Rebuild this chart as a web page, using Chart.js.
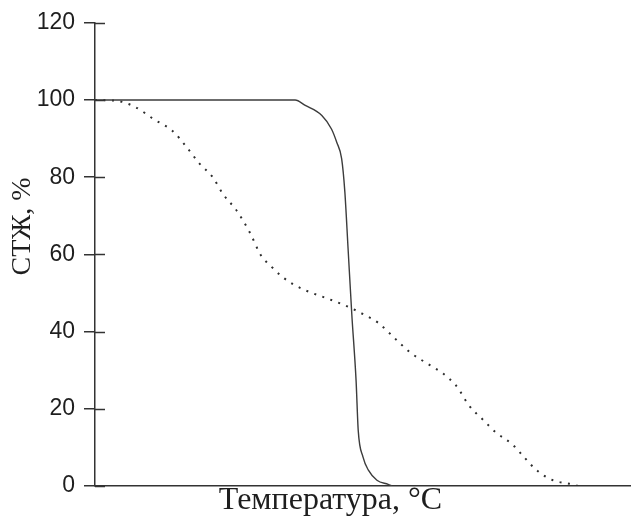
<!DOCTYPE html>
<html>
<head>
<meta charset="utf-8">
<script src="https://cdn.jsdelivr.net/npm/chart.js@4/dist/chart.umd.min.js"></script>
<style>
  html, body { margin: 0; padding: 0; background: #fff; }
  canvas { display: block; }
</style>
</head>
<body>
<canvas id="chart" width="631" height="517"></canvas>
<script>
// Y axis tick values (СТЖ, %)
const yTicks = [0, 20, 40, 60, 80, 100, 120];

// Solid curve: sharp drop
const tempSolid = [0, 37.4, 39.3, 42.4, 44.2, 45.2, 46.1, 46.7, 47.3, 48.0, 48.8, 49.2, 50.1, 51.1, 52.7, 54.8, 55.5];
const stjSolid  = [100, 100, 98.6, 96.0, 92.5, 89.0, 84.8, 76.2, 61.6, 44.5, 27.3, 14.4, 7.5, 4.1, 1.5, 0.4, 0];

// Dotted curve: gradual two-stage decline
const tempDotted = [0, 4, 7.5, 11, 14.5, 17, 19.5, 22, 24, 26.5, 29, 31, 33, 35, 37, 40, 43, 46, 48, 50, 53, 56, 59, 62.5, 65, 67.5, 70, 72.5, 75, 78, 80, 82, 84, 86, 89, 90.3];
const stjDotted  = [100, 99.8, 98.2, 95.0, 92.0, 88.0, 83.6, 80.0, 75.5, 71.3, 65.5, 59.8, 56.8, 54.2, 52.3, 50.3, 48.8, 47.2, 46.0, 44.6, 42.2, 38.3, 34.5, 31.4, 29.2, 26.0, 20.7, 17.2, 13.8, 10.8, 7.8, 4.8, 2.6, 1.3, 0.5, 0];

const toPoints = (xs, ys) => xs.map((x, i) => ({ x, y: ys[i] }));

const AXIS_COLOR = '#333';
const TEXT_COLOR = '#1e1e1e';
const EN_SPACE = '\u2002';

// Tick marks on the y axis cross it: draw the inner half over the plot area
const innerTicks = {
  id: 'innerTicks',
  afterDatasetsDraw(chart) {
    const y = chart.scales.y;
    const { ctx, chartArea } = chart;
    ctx.save();
    ctx.strokeStyle = AXIS_COLOR;
    ctx.lineWidth = 1.5;
    y.ticks.forEach(t => {
      const py = Math.round(y.getPixelForValue(t.value)) + 0.5;
      ctx.beginPath();
      ctx.moveTo(chartArea.left, py);
      ctx.lineTo(chartArea.left + 10, py);
      ctx.stroke();
    });
    ctx.restore();
  }
};

new Chart(document.getElementById('chart'), {
  type: 'line',
  data: {
    datasets: [
      {
        data: toPoints(tempSolid, stjSolid),
        borderColor: '#3c3c3c',
        borderWidth: 1.4,
        pointRadius: 0,
        cubicInterpolationMode: 'monotone',
        fill: false
      },
      {
        data: toPoints(tempDotted, stjDotted),
        borderColor: '#2e2e2e',
        borderWidth: 2,
        borderDash: [2, 6.5],
        pointRadius: 0,
        cubicInterpolationMode: 'monotone',
        fill: false
      }
    ]
  },
  options: {
    responsive: false,
    animation: false,
    layout: { padding: { top: 20, right: 1, bottom: 0, left: 0 } },
    plugins: {
      legend: { display: false },
      tooltip: { enabled: false }
    },
    scales: {
      x: {
        type: 'linear',
        min: 0,
        max: 100,
        ticks: { display: false },
        grid: { display: false },
        border: { display: true, color: AXIS_COLOR, width: 1.5 },
        title: {
          display: true,
          // trailing spaces move the centred label slightly left
          text: 'Температура, °C' + EN_SPACE.repeat(4),
          color: TEXT_COLOR,
          font: { family: '"Liberation Serif", "Times New Roman", serif', size: 32 },
          padding: { top: 0, bottom: -3 }
        },
        afterFit(scale) { scale.height = 31; }
      },
      y: {
        type: 'linear',
        min: 0,
        max: 120,
        afterBuildTicks(scale) { scale.ticks = yTicks.map(v => ({ value: v })); },
        ticks: {
          color: TEXT_COLOR,
          padding: 9,
          font: { family: '"Liberation Sans", Arial, sans-serif', size: 23 }
        },
        grid: {
          display: true,
          drawOnChartArea: false,
          drawTicks: true,
          tickLength: 11,
          color: AXIS_COLOR,
          lineWidth: 1.5
        },
        border: { display: true, color: AXIS_COLOR, width: 1.5 },
        title: {
          display: true,
          // leading spaces raise the rotated, centred label
          text: EN_SPACE.repeat(4) + 'СТЖ, %',
          color: TEXT_COLOR,
          font: { family: '"Liberation Serif", "Times New Roman", serif', size: 28 },
          padding: { top: 6, bottom: 0 }
        },
        afterFit(scale) { scale.width = 95; }
      }
    }
  },
  plugins: [innerTicks]
});
</script>
</body>
</html>
